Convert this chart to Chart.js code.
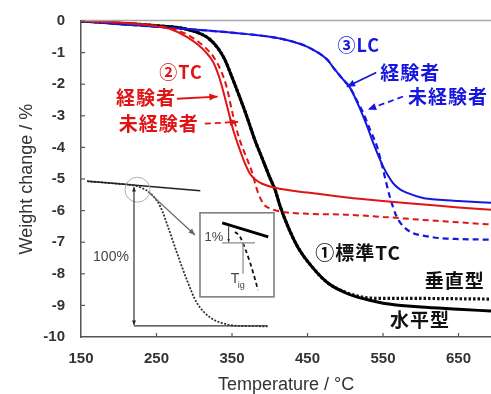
<!DOCTYPE html>
<html>
<head>
<meta charset="utf-8">
<script src="https://cdn.jsdelivr.net/npm/chart.js@4/dist/chart.umd.min.js"></script>
<style>
  html, body { margin: 0; padding: 0; background: #fff; }
  canvas { display: block; }
</style>
</head>
<body>
<canvas id="tgChart" width="491" height="394"></canvas>
<script>
// Achsen-Ticks
const xTicks = [150, 250, 350, 450, 550, 650];
const yTicks = [0, -1, -2, -3, -4, -5, -6, -7, -8, -9, -10];

// ① 標準TC (black): 水平型 = solid, 垂直型 = dashed
const tStd = [150, 200, 250, 290, 310, 320, 330, 340, 350, 360, 370, 380, 390, 400, 407, 414, 424, 437, 456, 477, 500, 515, 530, 550, 600, 650, 693];
const wHorizontal = [0, -0.07, -0.15, -0.26, -0.42, -0.57, -0.82, -1.2, -1.78, -2.4, -3.05, -3.75, -4.35, -4.95, -5.34, -5.88, -6.5, -7.15, -7.78, -8.29, -8.6, -8.73, -8.82, -8.93, -9.05, -9.12, -9.18];
const wVertical = [0, -0.07, -0.15, -0.26, -0.42, -0.57, -0.82, -1.2, -1.78, -2.4, -3.05, -3.75, -4.35, -4.95, -5.34, -5.88, -6.5, -7.15, -7.78, -8.29, -8.58, -8.7, -8.76, -8.78, -8.78, -8.79, -8.8];

// ② TC (red): 経験者 = solid, 未経験者 = dashed
const tTcExp = [150, 200, 250, 270, 290, 305, 315, 325, 334, 343, 351, 360, 367, 373, 380, 390, 407, 450, 500, 550, 600, 650, 693];
const wTcExp = [0, -0.05, -0.17, -0.27, -0.5, -0.75, -0.98, -1.3, -1.85, -2.65, -3.4, -4.05, -4.5, -4.8, -5.0, -5.15, -5.28, -5.43, -5.58, -5.7, -5.8, -5.9, -5.97];
const tTcNov = [150, 200, 250, 270, 290, 305, 315, 325, 335, 343, 351, 360, 368, 376, 384, 392, 400, 420, 450, 500, 550, 600, 650, 693];
const wTcNov = [0, -0.05, -0.15, -0.24, -0.42, -0.65, -0.85, -1.12, -1.55, -2.1, -2.95, -3.75, -4.25, -4.75, -5.4, -5.8, -5.93, -6.05, -6.1, -6.13, -6.2, -6.29, -6.37, -6.44];

// ③ LC (blue): 経験者 = solid, 未経験者 = dashed
const tLcExp = [150, 200, 250, 300, 350, 400, 430, 450, 476, 485, 497, 506, 519, 530, 537, 550, 563, 572, 582, 603, 625, 650, 693];
const wLcExp = [0, -0.1, -0.18, -0.27, -0.37, -0.5, -0.65, -0.82, -1.22, -1.5, -1.85, -2.1, -2.75, -3.4, -3.86, -4.6, -5.12, -5.32, -5.44, -5.6, -5.66, -5.7, -5.75];
const tLcNov = [150, 200, 250, 300, 350, 400, 430, 450, 476, 485, 497, 506, 515, 524, 533, 542, 550, 559, 568, 577, 590, 600, 625, 650, 693];
const wLcNov = [0, -0.1, -0.18, -0.27, -0.37, -0.5, -0.65, -0.82, -1.22, -1.5, -1.85, -2.1, -2.5, -2.92, -3.45, -3.97, -4.7, -5.56, -6.19, -6.5, -6.72, -6.78, -6.87, -6.9, -6.92];

// Schema links unten (Tangente, Kurve, Basislinie)
const tTangent = [158, 308];
const wTangent = [-5.07, -5.37];
const tSchemeCurve = [158, 200, 220, 230, 241, 255, 265, 277, 290, 303, 321, 343, 360, 397];
const wSchemeCurve = [-5.07, -5.15, -5.2, -5.28, -5.43, -5.87, -6.5, -7.33, -8.18, -8.9, -9.38, -9.6, -9.65, -9.66];
const tBase = [220, 397];
const wBase = [-9.65, -9.65];

// Detailbild (Inset)
const tInsetLine = [337, 398];
const wInsetLine = [-6.39, -6.83];
const tInsetCurve = [354, 360.6, 367, 374, 380, 384.4];
const wInsetCurve = [-6.67, -6.83, -7.18, -7.65, -8.13, -8.51];

const xy = (t, w) => t.map((v, i) => ({ x: v, y: w[i] }));

const RED = '#e01414';
const BLUE = '#1616e0';

function line(label, t, w, color, width, dash) {
    return {
        label: label,
        data: xy(t, w),
        borderColor: color,
        borderWidth: width,
        borderDash: dash || [],
        pointRadius: 0,
        fill: false,
        cubicInterpolationMode: 'monotone'
    };
}

const datasets = [
    line('Schema Tangente', tTangent, wTangent, '#222', 1.5),
    line('Schema Kurve', tSchemeCurve, wSchemeCurve, '#333', 1.8, [2, 1.5]),
    line('Schema Basis', tBase, wBase, '#333', 1.2),
    line('Inset Tangente', tInsetLine, wInsetLine, '#000', 3),
    line('Inset Kurve', tInsetCurve, wInsetCurve, '#111', 1.8, [4, 3]),
    line('②TC 経験者', tTcExp, wTcExp, RED, 2),
    line('②TC 未経験者', tTcNov, wTcNov, RED, 2, [6, 4]),
    line('③LC 経験者', tLcExp, wLcExp, BLUE, 2),
    line('③LC 未経験者', tLcNov, wLcNov, BLUE, 2.2, [6, 4]),
    line('水平型', tStd, wHorizontal, '#000', 3),
    line('垂直型', tStd, wVertical, '#111', 3.2, [2.5, 2])
];

// Pfeil mit Spitze
function arrow(ctx, x1, y1, x2, y2, color, width, dash, head, both) {
    ctx.save();
    ctx.strokeStyle = color;
    ctx.fillStyle = color;
    ctx.lineWidth = width;
    ctx.setLineDash(dash || []);
    ctx.beginPath();
    ctx.moveTo(x1, y1);
    ctx.lineTo(x2, y2);
    ctx.stroke();
    ctx.setLineDash([]);
    const tip = (ax, ay, bx, by) => {
        const a = Math.atan2(by - ay, bx - ax);
        ctx.beginPath();
        ctx.moveTo(bx, by);
        ctx.lineTo(bx - head * Math.cos(a - 0.4), by - head * Math.sin(a - 0.4));
        ctx.lineTo(bx - head * Math.cos(a + 0.4), by - head * Math.sin(a + 0.4));
        ctx.closePath();
        ctx.fill();
    };
    tip(x1, y1, x2, y2);
    if (both) tip(x2, y2, x1, y1);
    ctx.restore();
}

const annotations = {
    id: 'annotations',
    afterDatasetsDraw(chart) {
        const ctx = chart.ctx;
        const xs = chart.scales.x, ys = chart.scales.y;
        const X = v => xs.getPixelForValue(v);
        const Y = v => ys.getPixelForValue(v);
        const area = chart.chartArea;

        ctx.save();
        // oberer Rahmen
        ctx.strokeStyle = '#a8a8a8';
        ctx.lineWidth = 1.5;
        ctx.beginPath();
        ctx.moveTo(area.left, area.top - 0.5);
        ctx.lineTo(area.right, area.top - 0.5);
        ctx.stroke();

        // Tickmarken nach innen
        ctx.strokeStyle = '#555';
        ctx.lineWidth = 1.2;
        xTicks.slice(1).forEach(v => {
            ctx.beginPath();
            ctx.moveTo(X(v), area.bottom);
            ctx.lineTo(X(v), area.bottom - 4);
            ctx.stroke();
        });
        yTicks.slice(0, -1).forEach(v => {
            ctx.beginPath();
            ctx.moveTo(area.left, Y(v));
            ctx.lineTo(area.left + 4, Y(v));
            ctx.stroke();
        });

        // Schema: Kreis, Pfeile, Inset-Rahmen
        ctx.strokeStyle = '#b0b0b0';
        ctx.lineWidth = 1;
        ctx.beginPath();
        ctx.arc(X(224.8), Y(-5.34), 12.5, 0, Math.PI * 2);
        ctx.stroke();
        arrow(ctx, X(220.2), Y(-5.25), X(220.2), Y(-9.62), '#222', 1.1, [], 5, true);
        arrow(ctx, X(238.7), Y(-5.4), X(301), Y(-6.77), '#666', 1.3, [], 7, false);

        ctx.strokeStyle = '#808080';
        ctx.lineWidth = 1.6;
        ctx.strokeRect(X(307.6), Y(-6.07), X(405.6) - X(307.6), Y(-8.73) - Y(-6.07));
        ctx.strokeStyle = '#8a8a8a';
        ctx.lineWidth = 1.2;
        ctx.beginPath();
        ctx.moveTo(X(336.8), Y(-7.02));
        ctx.lineTo(X(380.5), Y(-7.02));
        ctx.moveTo(X(364.6), Y(-7.02));
        ctx.lineTo(X(364.6), Y(-8.0));
        ctx.stroke();
        arrow(ctx, X(345.5), Y(-6.5), X(345.5), Y(-7.0), '#333', 1, [], 3.5, false);

        ctx.fillStyle = '#444';
        ctx.textAlign = 'center';
        ctx.textBaseline = 'middle';
        ctx.font = '14px "Liberation Sans", Arial, sans-serif';
        ctx.fillText('100%', X(189.7), Y(-7.48));
        ctx.font = '13px "Liberation Sans", Arial, sans-serif';
        ctx.fillText('1%', X(326), Y(-6.85));
        ctx.font = '14px "Liberation Sans", Arial, sans-serif';
        ctx.fillText('T', X(354), Y(-8.18));
        ctx.font = '9px "Liberation Sans", Arial, sans-serif';
        ctx.textAlign = 'left';
        ctx.fillText('ig', X(357.5), Y(-8.38));

        // Beschriftungen der Kurven
        ctx.textAlign = 'center';
        const cjk = 'bold 19px "Noto Sans CJK JP", sans-serif';
        const label = (text, t, w, color, size) => {
            ctx.font = size ? 'bold ' + size + 'px "Noto Sans CJK JP", sans-serif' : cjk;
            ctx.fillStyle = color;
            ctx.letterSpacing = '1px';
            ctx.fillText(text, X(t), Y(w));
            ctx.letterSpacing = '0px';
        };
        label('②TC', 282.5, -1.63, RED, 18);
        label('経験者', 236, -2.42, RED);
        label('未経験者', 253, -3.25, RED);
        arrow(ctx, X(277), Y(-2.46), X(331), Y(-2.39), RED, 1.8, [], 9, false);
        arrow(ctx, X(314), Y(-3.25), X(358), Y(-3.19), RED, 1.8, [6, 4], 9, false);

        label('③LC', 518, -0.78, BLUE, 18);
        label('経験者', 586, -1.63, BLUE);
        label('未経験者', 636, -2.39, BLUE);
        arrow(ctx, X(541), Y(-1.63), X(502), Y(-2.08), BLUE, 1.8, [], 9, false);
        arrow(ctx, X(576.5), Y(-2.39), X(530), Y(-2.8), BLUE, 1.8, [6, 4], 9, false);

        label('①標準TC', 517, -7.34, '#111');
        label('垂直型', 645, -8.23, '#111');
        label('水平型', 599, -9.46, '#111');
        ctx.restore();
    }
};

const ctx = document.getElementById('tgChart').getContext('2d');

const tgChart = new Chart(ctx, {
    type: 'line',
    data: { datasets: datasets },
    options: {
        responsive: false,
        animation: false,
        layout: { padding: { top: 21, right: 0, left: 0, bottom: 0 } },
        plugins: {
            legend: { display: false },
            tooltip: { enabled: false }
        },
        scales: {
            x: {
                type: 'linear',
                min: 150,
                max: 693,
                afterBuildTicks: s => { s.ticks = xTicks.map(v => ({ value: v })); },
                afterFit: s => { s.height = 57; },
                grid: { display: false },
                border: { display: true, color: '#555', width: 1.5 },
                ticks: {
                    padding: 5,
                    color: '#333',
                    font: { family: '"Liberation Sans", Arial, sans-serif', size: 15, weight: 'bold' }
                },
                title: {
                    display: true,
                    text: 'Temperature / °C',
                    color: '#333',
                    padding: { top: 0, bottom: -2 },
                    font: { family: '"Liberation Sans", Arial, sans-serif', size: 18 }
                }
            },
            y: {
                type: 'linear',
                min: -10,
                max: 0,
                afterBuildTicks: s => { s.ticks = yTicks.map(v => ({ value: v })); },
                afterFit: s => { s.width = 81; },
                grid: { display: false },
                border: { display: true, color: '#555', width: 1.5 },
                ticks: {
                    padding: 8,
                    color: '#333',
                    font: { family: '"Liberation Sans", Arial, sans-serif', size: 15, weight: 'bold' }
                },
                title: {
                    display: true,
                    text: 'Weight change / %',
                    color: '#333',
                    padding: { top: 16, bottom: 0 },
                    font: { family: '"Liberation Sans", Arial, sans-serif', size: 18 }
                }
            }
        }
    },
    plugins: [annotations]
});
</script>
</body>
</html>
